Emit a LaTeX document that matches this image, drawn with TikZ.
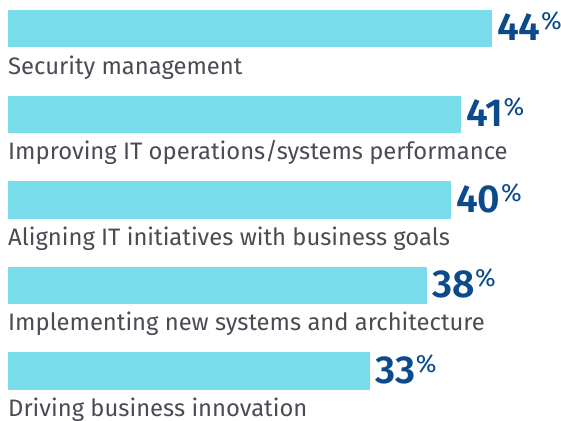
\documentclass[tikz,border=0pt]{standalone}
\usepackage{fontspec}
\setmainfont{Fira Sans}
\newfontfamily\numfont{Fira Sans SemiBold}
\definecolor{barc}{HTML}{79DCEB}
\definecolor{numc}{HTML}{0B4A8B}
\definecolor{txtc}{HTML}{4A4B53}
\newcommand{\pct}[1]{#1\raisebox{11pt}{\fontsize{25}{25}\selectfont\fontspec{Fira Sans}\kern0.5pt\%}}
\begin{document}
\begin{tikzpicture}[x=1pt,y=-1pt,
  bar/.style={fill=barc,draw=none,inner sep=0pt,outer sep=0pt,minimum height=37.5pt,anchor=north west},
  lab/.style={anchor=base west,inner sep=0pt,text=txtc,font=\fontsize{23.8}{24}\selectfont},
  num/.style={anchor=base west,inner sep=0pt,text=numc,font=\fontsize{39}{39}\selectfont\numfont}]
\useasboundingbox (0,0) rectangle (561,420);
\node[bar,minimum width=484pt] (b1) at (8,10) {};
\node[bar,minimum width=453pt] (b2) at (8,95.5) {};
\node[bar,minimum width=443pt] (b3) at (8,181) {};
\node[bar,minimum width=419pt] (b4) at (8,266.5) {};
\node[bar,minimum width=362pt] (b5) at (8,352) {};
\foreach \b/\v in {b1/44,b2/41,b3/40,b4/38,b5/33}{
  \node[num] (n\b) at ([xshift=5pt,yshift=6.5pt]\b.south east) {\pct{\v}};
}
\node[lab] (l1) at ([yshift=-26.5pt]b1.south west) {Security management};
\node[lab] (l2) at ([yshift=-26.5pt]b2.south west) {Improving IT operations/systems performance};
\node[lab] (l3) at ([yshift=-26.5pt]b3.south west) {Aligning IT initiatives with business goals};
\node[lab] (l4) at ([yshift=-26.5pt]b4.south west) {Implementing new systems and architecture};
\node[lab] (l5) at ([yshift=-26.5pt]b5.south west) {Driving business innovation};
\end{tikzpicture}
\end{document}
